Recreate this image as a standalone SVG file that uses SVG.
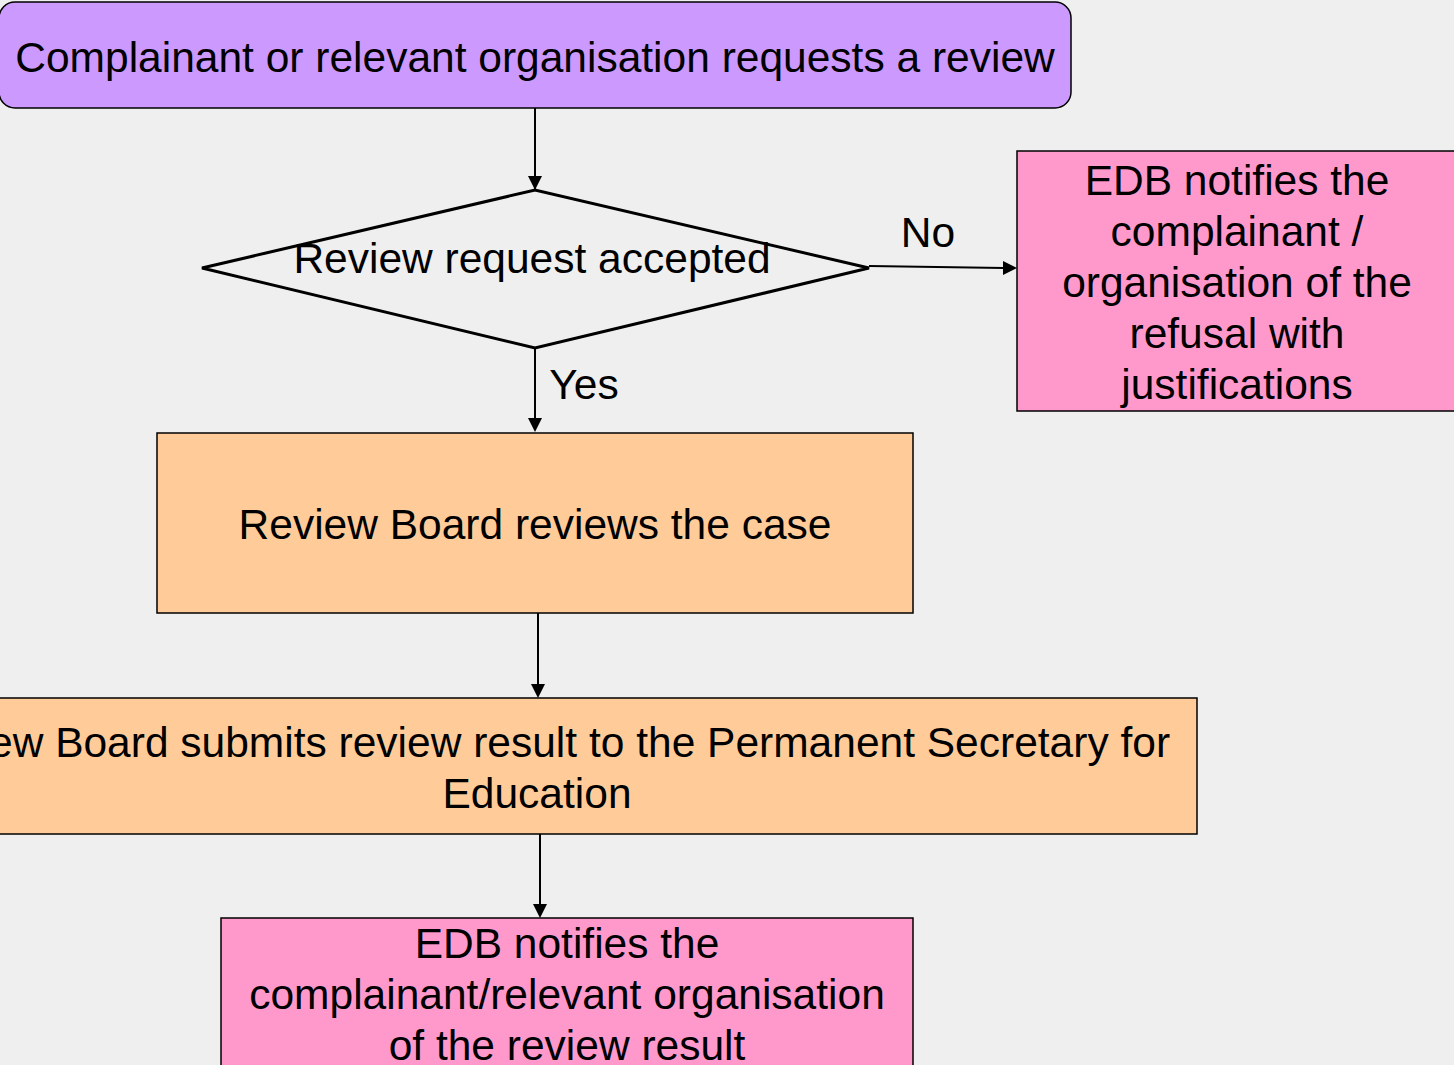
<svg xmlns="http://www.w3.org/2000/svg" width="1454" height="1065" viewBox="0 0 1454 1065">
<defs>
<style>
text{font-family:"Liberation Sans",Arial,sans-serif;font-size:42.5px;fill:#000;text-anchor:middle}
.box{stroke:#000;stroke-width:1.5}
.conn{stroke:#000;stroke-width:2;fill:none}
</style>
<marker id="arr" viewBox="0 0 10 10" refX="10" refY="5" markerWidth="7" markerHeight="7" markerUnits="userSpaceOnUse" orient="auto">
<path d="M0,0 L10,5 L0,10 z" fill="#000"/>
</marker>
</defs>
<rect width="1454" height="1065" fill="#efefef"/>
<g id="connectors">
<line class="conn" x1="535" y1="108" x2="535" y2="190" marker-end="url(#arr)" style="marker-end:none"/>
<path d="M528,176 L542,176 L535,190 z" fill="#000"/>
<line class="conn" x1="869" y1="266" x2="1004" y2="268"/>
<path d="M1003,261 L1017,268 L1003,275 z" fill="#000"/>
<line class="conn" x1="535" y1="348" x2="535" y2="420"/>
<path d="M528,418 L542,418 L535,432 z" fill="#000"/>
<line class="conn" x1="538" y1="613" x2="538" y2="686"/>
<path d="M531,684 L545,684 L538,698 z" fill="#000"/>
<line class="conn" x1="540" y1="834" x2="540" y2="906"/>
<path d="M533,904 L547,904 L540,918 z" fill="#000"/>
<text x="928" y="247">No</text>
<text x="584" y="399">Yes</text>
</g>
<g id="n1">
<rect class="box" x="-1" y="2" width="1072" height="106" rx="16" fill="#cc99ff"/>
<text x="535" y="72">Complainant or relevant organisation requests a review</text>
</g>
<g id="n2">
<polygon points="202,268 535,190 869,268 535,348" fill="none" stroke="#000" stroke-width="3"/>
<text x="532" y="273">Review request accepted</text>
</g>
<g id="n3">
<rect class="box" x="1017" y="151" width="440" height="260" fill="#ff99cc"/>
<text x="1237" y="195">EDB notifies the</text>
<text x="1237" y="246">complainant /</text>
<text x="1237" y="297">organisation of the</text>
<text x="1237" y="348">refusal with</text>
<text x="1237" y="399">justifications</text>
</g>
<g id="n4">
<rect class="box" x="157" y="433" width="756" height="180" fill="#ffcc99"/>
<text x="535" y="539">Review Board reviews the case</text>
</g>
<g id="n5">
<rect class="box" x="-123" y="698" width="1320" height="136" fill="#ffcc99"/>
<text x="537" y="757">Review Board submits review result to the Permanent Secretary for</text>
<text x="537" y="808">Education</text>
</g>
<g id="n6">
<rect class="box" x="221" y="918" width="692" height="160" fill="#ff99cc"/>
<text x="567" y="958">EDB notifies the</text>
<text x="567" y="1009">complainant/relevant organisation</text>
<text x="567" y="1060">of the review result</text>
</g>
</svg>
